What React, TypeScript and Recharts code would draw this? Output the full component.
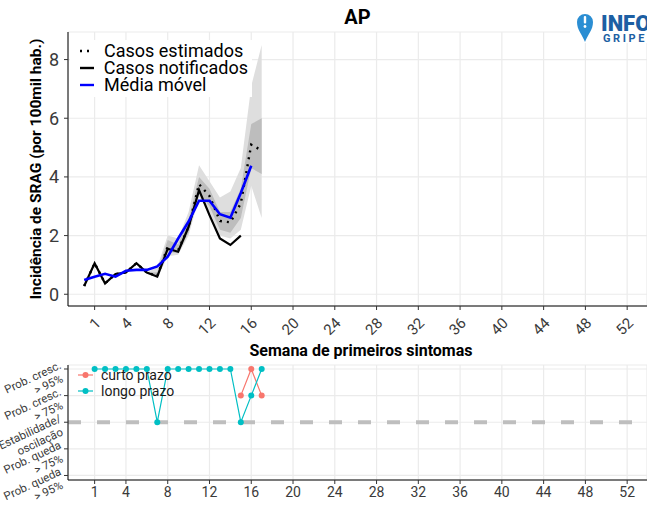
import {
  ComposedChart,
  LineChart,
  Line,
  Area,
  XAxis,
  YAxis,
  CartesianGrid,
  ReferenceLine,
  Legend,
} from "recharts";

// semanas epidemiológicas do painel superior
const semanas = [0, 1, 2, 3, 4, 5, 6, 7, 8, 9, 10, 11, 12, 13, 14, 15, 16, 17];
const casosNotificados = [0.28, 1.06, 0.37, 0.69, 0.74, 1.06, 0.74, 0.6, 1.55, 1.45, 2.3, 3.55, 2.7, 1.9, 1.68, 2.0, null, null];
const casosEstimados = [0.28, 1.06, 0.37, 0.69, 0.74, 1.06, 0.74, 0.62, 1.62, 1.5, 2.3, 3.75, 3.35, 2.5, 2.45, 3.1, 5.1, 4.9];
const mediaMovel = [0.49, 0.6, 0.7, 0.6, 0.8, 0.83, 0.83, 0.95, 1.28, 1.9, 2.48, 3.19, 3.19, 2.73, 2.61, 3.45, 4.38, null];
const ic50Min = [null, null, null, null, null, null, 0.74, 0.58, 1.45, 1.4, 2.1, 3.45, 3.0, 2.2, 2.1, 2.6, 4.3, 4.1];
const ic50Max = [null, null, null, null, null, null, 0.74, 0.75, 1.85, 1.7, 2.55, 4.0, 3.6, 2.8, 2.8, 3.6, 5.8, 6.0];
const ic95Min = [null, null, null, null, null, null, 0.74, 0.55, 1.3, 1.35, 2.0, 3.3, 2.8, 2.0, 1.9, 2.2, 3.7, 2.6];
const ic95Max = [null, null, null, null, null, null, 0.74, 0.92, 2.0, 1.9, 2.8, 4.4, 3.85, 3.3, 3.5, 4.3, 7.1, 8.5];

// painel de tendência
const semanasTendencia = [1, 2, 3, 4, 5, 6, 7, 8, 9, 10, 11, 12, 13, 14, 15, 16, 17];
const curtoPrazo = [null, null, null, null, null, null, null, null, null, null, null, null, null, null, 1, 2, 1];
const longoPrazo = [2, 2, 2, 2, 2, 2, 0, 2, 2, 2, 2, 2, 2, 2, 0, 1, 2];

const ticksSemana = [1, 4, 8, 12, 16, 20, 24, 28, 32, 36, 40, 44, 48, 52];
const ticksIncidencia = [0, 2, 4, 6, 8];
const niveisTendencia = [-2, -1, 0, 1, 2];
const rotulosTendencia: Record<number, string[]> = {
  2: ["Prob. cresc.", "> 95%"],
  1: ["Prob. cresc.", "> 75%"],
  0: ["Estabilidade/", "oscilação"],
  [-1]: ["Prob. queda", "> 75%"],
  [-2]: ["Prob. queda", "> 95%"],
};

const dadosIncidencia = semanas.map((s, i) => ({
  semana: s,
  notificados: casosNotificados[i],
  estimados: casosEstimados[i],
  media: mediaMovel[i],
  ic50: ic50Min[i] == null ? null : [ic50Min[i], ic50Max[i]],
  ic95: ic95Min[i] == null ? null : [ic95Min[i], ic95Max[i]],
}));

const dadosTendencia = semanasTendencia.map((s, i) => ({
  semana: s,
  curto: curtoPrazo[i],
  longo: longoPrazo[i],
}));

const FONTE = "Roboto, 'DejaVu Sans', sans-serif";
const COR_TEXTO = "#3a3a3a";
const GRADE = "#EBEBEB";

const TickSemanaRot = ({ x, y, payload }: any) => (
  <g transform={`translate(${x + 7},${y + 12})`}>
    <text textAnchor="end" transform="rotate(-45)" fontSize={15} fill={COR_TEXTO} fontFamily={FONTE}>
      {payload.value}
    </text>
  </g>
);

// rótulos em duas linhas, giradas, com o fim das linhas quase alinhado na vertical
const TickTendencia = ({ x, y, payload }: any) => {
  const linhas = rotulosTendencia[payload.value] || [];
  return (
    <g transform={`translate(${x + 1},${y - 1}) rotate(-25)`}>
      <text textAnchor="end" fontSize={11.5} fill={COR_TEXTO} fontFamily={FONTE}>
        <tspan x={0} dy={0}>{linhas[0]}</tspan>
        <tspan x={-4} dy={13}>{linhas[1]}</tspan>
      </text>
    </g>
  );
};

const LegendaIncidencia = () => {
  const itens = [
    { nome: "Casos estimados", cor: "#000", tracejado: "2 5" },
    { nome: "Casos notificados", cor: "#000", tracejado: undefined },
    { nome: "Média móvel", cor: "#0000FF", tracejado: undefined },
  ];
  return (
    <div style={{ background: "#fff", padding: "3px 4px 4px 8px", fontFamily: FONTE, fontSize: 18, color: "#000", whiteSpace: "nowrap" }}>
      {itens.map((it) => (
        <div key={it.nome} style={{ display: "flex", alignItems: "center", height: 16.8 }}>
          <svg width={26} height={16}>
            <line x1={2} x2={16} y1={8} y2={8} stroke={it.cor} strokeWidth={2.4} strokeDasharray={it.tracejado} />
          </svg>
          <span style={{ lineHeight: "16px" }}>{it.nome}</span>
        </div>
      ))}
    </div>
  );
};

const LegendaTendencia = () => {
  const itens = [
    { nome: "curto prazo", cor: "#F8766D" },
    { nome: "longo prazo", cor: "#00BFC4" },
  ];
  return (
    <div style={{ fontFamily: FONTE, fontSize: 14, color: "#1a1a1a", whiteSpace: "nowrap" }}>
      {itens.map((it) => (
        <div key={it.nome} style={{ display: "flex", alignItems: "center", height: 16 }}>
          <svg width={22} height={16}>
            <line x1={0} x2={15} y1={8} y2={8} stroke={it.cor} strokeWidth={1.2} />
            <circle cx={7.5} cy={8} r={3} fill={it.cor} />
          </svg>
          <span style={{ lineHeight: "16px", marginLeft: 1 }}>{it.nome}</span>
        </div>
      ))}
    </div>
  );
};

const Logo = () => (
  <div style={{ position: "absolute", left: 570, top: 0, width: 77, height: 43, background: "#fff", overflow: "hidden" }}>
    <svg width={20} height={32} style={{ position: "absolute", left: 6, top: 11 }}>
      <path d="M9 31 C6 23 1 19 1 11 A8 8 0 0 1 17 11 C17 19 12 23 9 31 Z" fill="#2B8ED3" />
      <rect x={7.8} y={5} width={2.4} height={7.5} rx={1} fill="#fff" />
      <circle cx={9} cy={15.5} r={1.4} fill="#fff" />
    </svg>
    <div style={{ position: "absolute", left: 31, top: 15, fontFamily: FONTE, fontWeight: 900, fontSize: 22, color: "#1D5FA3", lineHeight: "17px" }}>
      INFO
    </div>
    <div style={{ position: "absolute", left: 33, top: 34, fontFamily: FONTE, fontWeight: 700, fontSize: 11, letterSpacing: 2.6, color: "#1D5FA3", lineHeight: "9px" }}>
      GRIPE
    </div>
  </div>
);

export default function App() {
  return (
    <div style={{ position: "absolute", left: 0, top: 0, width: 647, height: 506, background: "#fff", overflow: "hidden" }}>
      <div style={{ position: "absolute", left: 68, width: 579, top: 5, textAlign: "center", fontFamily: FONTE, fontWeight: 700, fontSize: 20, color: "#000" }}>
        AP
      </div>

      <div style={{ position: "absolute", left: 0, top: 0 }}>
        <ComposedChart width={647} height={340} data={dadosIncidencia} margin={{ top: 32, right: 0, left: 0, bottom: 0 }}>
          <CartesianGrid stroke={GRADE} strokeWidth={1.2} />
          <XAxis
            dataKey="semana"
            type="number"
            domain={[-1.55, 53.9]}
            ticks={ticksSemana}
            allowDataOverflow
            height={34}
            stroke="#000"
            tickLine={{ stroke: "#333" }}
            tickSize={4}
            tick={<TickSemanaRot />}
            interval={0}
          />
          <YAxis
            type="number"
            domain={[-0.4, 8.94]}
            ticks={ticksIncidencia}
            allowDataOverflow
            width={68}
            stroke="#000"
            tickLine={{ stroke: "#333" }}
            tickSize={4}
            tickMargin={5}
            tick={{ fontSize: 18, fill: COR_TEXTO, fontFamily: FONTE }}
            label={{
              content: () => (
                <text
                  transform="translate(36,169) rotate(-90)"
                  textAnchor="middle"
                  dominantBaseline="central"
                  fontSize={15.5}
                  fontWeight={700}
                  fontFamily={FONTE}
                  fill="#000"
                >
                  Incidência de SRAG (por 100mil hab.)
                </text>
              ),
            }}
          />
          <Area type="linear" dataKey="ic95" stroke="none" fill="#DEDEDE" fillOpacity={1} isAnimationActive={false} />
          <Area type="linear" dataKey="ic50" stroke="none" fill="#BDBDBD" fillOpacity={1} isAnimationActive={false} />
          <Line type="linear" dataKey="notificados" stroke="#000" strokeWidth={2.2} dot={false} isAnimationActive={false} />
          <Line type="linear" dataKey="estimados" stroke="#000" strokeWidth={2.4} strokeDasharray="2 5" dot={false} isAnimationActive={false} />
          <Line type="linear" dataKey="media" stroke="#0000FF" strokeWidth={2.6} dot={false} isAnimationActive={false} />
          <Legend
            layout="vertical"
            align="center"
            verticalAlign="middle"
            content={<LegendaIncidencia />}
            wrapperStyle={{ left: 70, top: 40, width: 182 }}
          />
        </ComposedChart>
      </div>

      <div style={{ position: "absolute", left: 68, width: 586, top: 341, textAlign: "center", fontFamily: FONTE, fontWeight: 700, fontSize: 16, color: "#000" }}>
        Semana de primeiros sintomas
      </div>

      <div style={{ position: "absolute", left: 0, top: 355 }}>
        <LineChart width={647} height={151} data={dadosTendencia} margin={{ top: 10, right: 0, left: 0, bottom: 0 }}>
          <CartesianGrid stroke={GRADE} strokeWidth={1.2} />
          <ReferenceLine y={0} stroke="#BEBEBE" strokeWidth={4} strokeDasharray="13 16" />
          <XAxis
            dataKey="semana"
            type="number"
            domain={[-1.55, 53.9]}
            ticks={ticksSemana}
            allowDataOverflow
            height={26}
            stroke="#000"
            tickLine={{ stroke: "#333" }}
            tickSize={4}
            tickMargin={3}
            interval={0}
            tick={{ fontSize: 14, fill: COR_TEXTO, fontFamily: FONTE }}
          />
          <YAxis
            type="number"
            domain={[-2.17, 2.15]}
            ticks={niveisTendencia}
            allowDataOverflow
            width={68}
            stroke="#000"
            tickLine={{ stroke: "#333" }}
            tickSize={4}
            tickMargin={3}
            interval={0}
            tick={<TickTendencia />}
          />
          <Line type="linear" dataKey="curto" stroke="#F8766D" strokeWidth={1.2} dot={{ r: 3, fill: "#F8766D", stroke: "#F8766D", strokeWidth: 0 }} isAnimationActive={false} />
          <Line type="linear" dataKey="longo" stroke="#00BFC4" strokeWidth={1.2} dot={{ r: 3, fill: "#00BFC4", stroke: "#00BFC4", strokeWidth: 0 }} isAnimationActive={false} />
          <Legend
            layout="vertical"
            align="center"
            verticalAlign="middle"
            content={<LegendaTendencia />}
            wrapperStyle={{ left: 78, top: 12, width: 120 }}
          />
        </LineChart>
      </div>

      <Logo />
    </div>
  );
}
